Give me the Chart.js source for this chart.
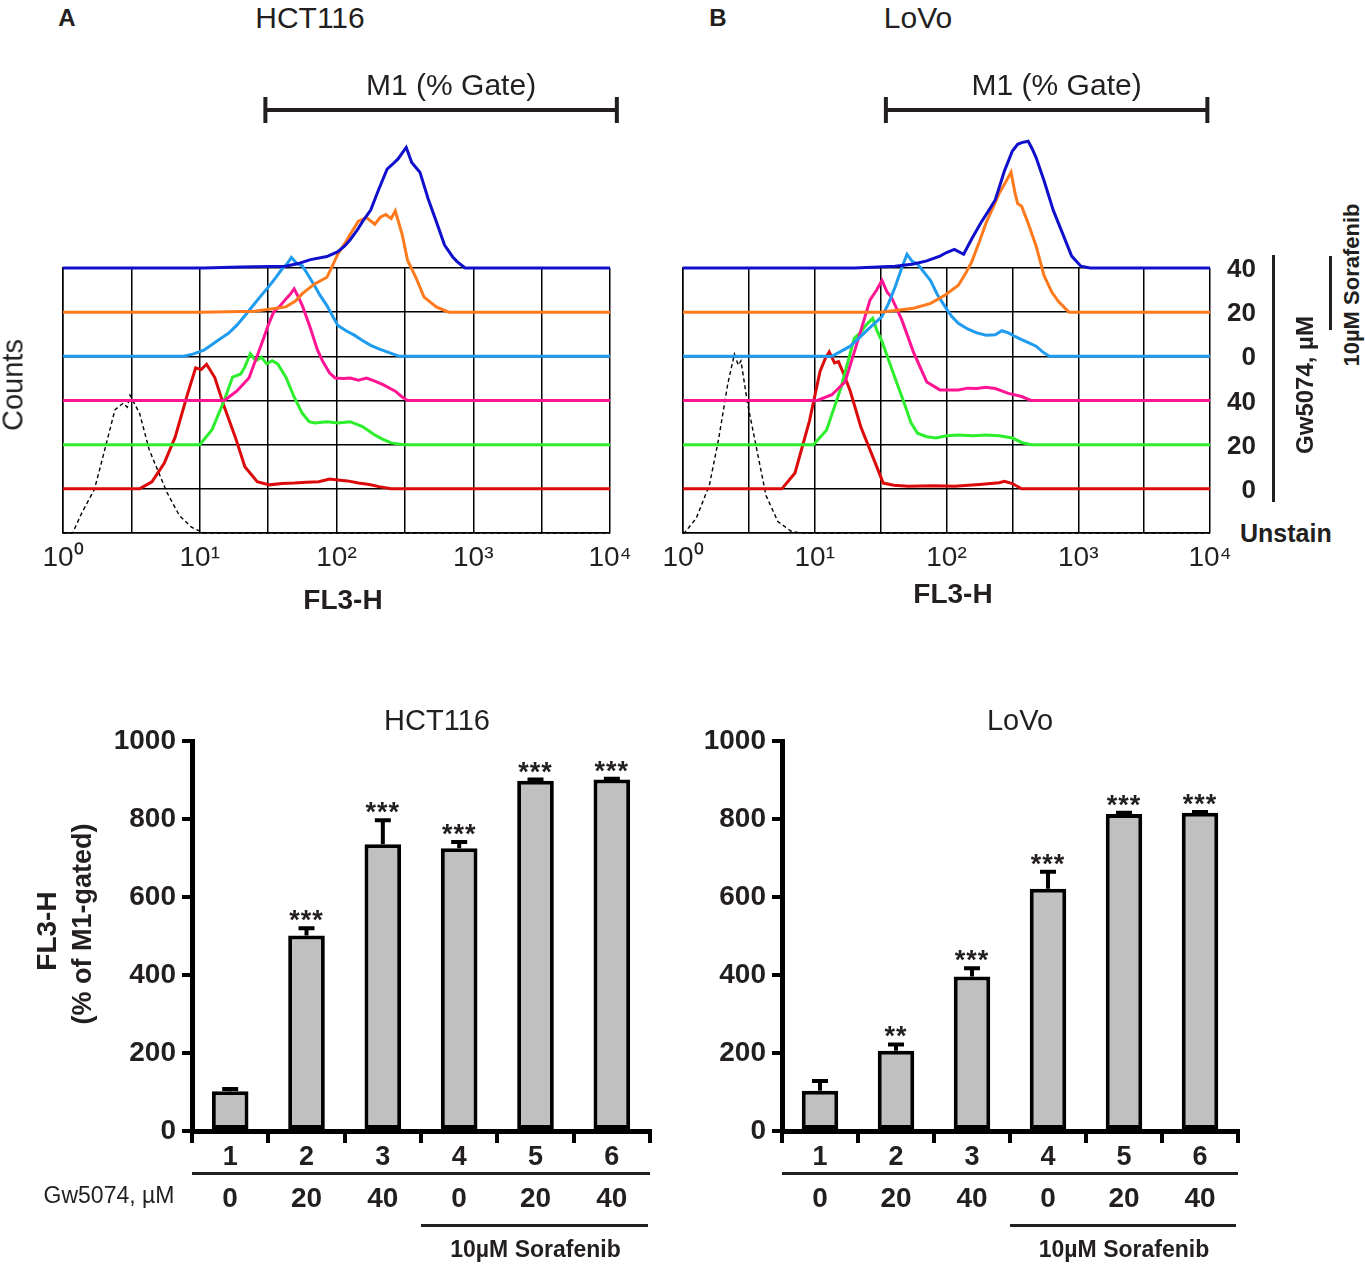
<!DOCTYPE html>
<html><head><meta charset="utf-8">
<script src="https://cdn.jsdelivr.net/npm/chart.js@4.4.1/dist/chart.umd.min.js"></script>
<style>
html,body{margin:0;padding:0;background:#fff;}
#fig{position:relative;width:1365px;height:1266px;overflow:hidden;font-family:"Liberation Sans",Arial,Helvetica,sans-serif;color:#231f20;}
canvas{position:absolute;}
.t{position:absolute;white-space:nowrap;line-height:1;}
.ln{position:absolute;background:#231f20;}
</style></head><body><div id="fig">
<canvas id="hA" width="640" height="540" style="left:0px;top:60px;width:640px;height:540px"></canvas>
<canvas id="hB" width="600" height="540" style="left:640px;top:60px;width:600px;height:540px"></canvas>
<canvas id="bA" width="670" height="566" style="left:0px;top:700px;width:670px;height:566px"></canvas>
<canvas id="bB" width="580" height="566" style="left:680px;top:700px;width:580px;height:566px"></canvas>
</div>
<script>
// ---------- DATA ----------
// Histogram curves: [log10(FL3-H), relative count in grid rows]
const hctBlue = [[0,0],[1.03,0],[1.30,0.02],[1.63,0.04],[1.72,0.10],[1.81,0.19],[1.93,0.26],[2.01,0.37],[2.06,0.50],[2.10,0.64],[2.15,0.85],[2.19,1.05],[2.25,1.31],[2.31,1.79],[2.37,2.24],[2.41,2.35],[2.45,2.47],[2.48,2.60],[2.51,2.73],[2.55,2.39],[2.61,2.17],[2.67,1.57],[2.73,1.05],[2.79,0.52],[2.85,0.25],[2.88,0.15],[2.94,0],[4,0]];
const hctOrange = [[0,0],[1.00,0],[1.40,0.02],[1.63,0.12],[1.70,0.25],[1.75,0.42],[1.84,0.64],[1.93,0.79],[1.97,1.05],[2.01,1.32],[2.06,1.55],[2.10,1.76],[2.16,2.06],[2.22,2.14],[2.28,1.99],[2.32,2.15],[2.36,2.21],[2.40,2.12],[2.43,2.29],[2.48,1.76],[2.52,1.17],[2.58,0.79],[2.64,0.34],[2.73,0.12],[2.82,0],[4,0]];
const hctLightBlue = [[0,0],[0.88,0],[0.95,0.05],[1.03,0.14],[1.09,0.27],[1.15,0.40],[1.21,0.52],[1.27,0.70],[1.33,0.92],[1.39,1.15],[1.45,1.38],[1.51,1.60],[1.56,1.80],[1.60,1.97],[1.64,2.10],[1.67,2.24],[1.71,2.10],[1.75,2.05],[1.80,1.80],[1.84,1.60],[1.88,1.38],[1.93,1.15],[1.97,0.92],[2.01,0.70],[2.07,0.58],[2.13,0.48],[2.19,0.36],[2.25,0.25],[2.31,0.17],[2.37,0.10],[2.46,0],[4,0]];
const hctPink = [[0,0],[1.18,0],[1.27,0.21],[1.36,0.51],[1.45,1.26],[1.50,1.70],[1.54,2.00],[1.59,2.15],[1.63,2.30],[1.66,2.40],[1.69,2.53],[1.72,2.35],[1.75,2.15],[1.81,1.63],[1.86,1.15],[1.90,0.88],[1.95,0.62],[1.99,0.51],[2.05,0.50],[2.10,0.51],[2.16,0.46],[2.22,0.51],[2.28,0.44],[2.34,0.36],[2.43,0.21],[2.48,0.08],[2.52,0],[4,0]];
const hctGreen = [[0,0],[1.00,0],[1.09,0.34],[1.18,1.01],[1.24,1.53],[1.30,1.60],[1.33,1.76],[1.37,2.06],[1.41,1.90],[1.45,1.98],[1.49,1.83],[1.53,1.90],[1.57,1.83],[1.63,1.53],[1.69,1.08],[1.75,0.71],[1.80,0.52],[1.84,0.49],[1.93,0.52],[2.01,0.49],[2.10,0.52],[2.19,0.41],[2.28,0.22],[2.34,0.12],[2.40,0.04],[2.49,0],[4,0]];
const hctRed = [[0,0],[0.56,0],[0.65,0.16],[0.74,0.58],[0.82,1.17],[0.91,2.14],[0.97,2.74],[1.01,2.70],[1.05,2.82],[1.11,2.52],[1.18,1.85],[1.26,1.17],[1.33,0.50],[1.42,0.16],[1.51,0.09],[1.60,0.12],[1.69,0.13],[1.78,0.15],[1.87,0.16],[1.95,0.22],[2.01,0.20],[2.08,0.18],[2.16,0.13],[2.24,0.10],[2.31,0.05],[2.40,0],[4,0]];
const hctUnstain = [[0,0],[0.07,0],[0.14,0.47],[0.23,0.99],[0.30,1.82],[0.38,2.79],[0.44,2.94],[0.47,2.85],[0.49,3.12],[0.56,2.71],[0.63,1.89],[0.71,1.29],[0.76,0.92],[0.85,0.40],[0.94,0.13],[1.03,0],[4,0]];

const lovoBlue = [[0,0],[1.30,0],[1.61,0.04],[1.75,0.09],[1.85,0.16],[1.95,0.27],[2.00,0.35],[2.06,0.42],[2.13,0.31],[2.19,0.65],[2.26,1.02],[2.32,1.30],[2.37,1.54],[2.44,2.20],[2.50,2.65],[2.54,2.80],[2.57,2.84],[2.62,2.87],[2.65,2.70],[2.68,2.50],[2.74,1.98],[2.81,1.31],[2.88,0.79],[2.95,0.27],[3.02,0.04],[3.09,0],[4,0]];
const lovoOrange = [[0,0],[1.50,0],[1.75,0.09],[1.88,0.20],[1.99,0.39],[2.09,0.61],[2.14,0.85],[2.19,1.13],[2.25,1.60],[2.30,2.02],[2.35,2.35],[2.40,2.69],[2.45,2.95],[2.49,3.17],[2.52,2.70],[2.54,2.46],[2.57,2.40],[2.61,2.09],[2.68,1.50],[2.74,0.83],[2.80,0.45],[2.85,0.24],[2.93,0],[4,0]];
const lovoLightBlue = [[0,0],[1.13,0],[1.27,0.23],[1.40,0.60],[1.51,0.90],[1.56,1.20],[1.61,1.57],[1.66,2.00],[1.70,2.31],[1.74,2.15],[1.78,2.09],[1.83,1.90],[1.88,1.71],[1.93,1.40],[1.99,1.12],[2.04,0.90],[2.09,0.75],[2.16,0.62],[2.23,0.53],[2.30,0.48],[2.37,0.49],[2.42,0.58],[2.47,0.53],[2.52,0.45],[2.57,0.38],[2.63,0.30],[2.68,0.23],[2.73,0.10],[2.78,0],[4,0]];
const lovoPink = [[0,0],[1.02,0],[1.13,0.13],[1.23,0.42],[1.33,1.39],[1.42,2.28],[1.47,2.50],[1.51,2.72],[1.55,2.45],[1.58,2.35],[1.66,1.83],[1.75,1.09],[1.85,0.42],[1.95,0.24],[2.09,0.24],[2.16,0.28],[2.23,0.27],[2.30,0.30],[2.37,0.27],[2.47,0.16],[2.57,0.09],[2.64,0],[4,0]];
const lovoGreen = [[0,0],[0.99,0],[1.09,0.33],[1.20,1.30],[1.30,2.41],[1.35,2.55],[1.39,2.71],[1.44,2.86],[1.47,2.60],[1.51,2.34],[1.59,1.67],[1.68,0.93],[1.73,0.50],[1.78,0.26],[1.85,0.18],[1.92,0.15],[2.00,0.20],[2.09,0.22],[2.20,0.20],[2.30,0.22],[2.40,0.20],[2.50,0.15],[2.57,0.05],[2.64,0],[4,0]];
const lovoRed = [[0,0],[0.75,0],[0.85,0.36],[0.96,1.54],[1.04,2.66],[1.08,2.95],[1.11,3.10],[1.15,2.85],[1.18,2.88],[1.22,2.60],[1.27,2.21],[1.35,1.40],[1.44,0.73],[1.52,0.13],[1.60,0.08],[1.71,0.06],[1.90,0.07],[2.06,0.06],[2.25,0.10],[2.40,0.14],[2.44,0.17],[2.50,0.12],[2.57,0],[4,0]];
const lovoUnstain = [[0,0],[0.01,0],[0.10,0.33],[0.20,1.08],[0.27,2.12],[0.34,3.38],[0.39,4.05],[0.42,3.80],[0.44,3.90],[0.49,2.93],[0.56,1.89],[0.63,0.85],[0.72,0.26],[0.82,0.04],[0.89,0],[4,0]];

// stacking row (baseline) of each histogram, top to bottom
const rowOffsets = [6,5,4,3,2,1,0];
const rowDose = ['40','20','0','40','20','0'];
const seriesColors = ['#1010cc','#ff7a1c','#1f9bf0','#ff1493','#2cee2c','#dc0a0a','#000000'];
// M1 gate range, log10(FL3-H)
const gateA = [1.48, 4.05];
const gateB = [1.54, 3.98];
const xTickExp = ['\u2070','\u00b9','\u00b2','\u00b3','\u2074'];

// Bar charts
const barCategories = ['1','2','3','4','5','6'];
const gwDose = ['0','20','40','0','20','40'];
const hctMeans = [102, 501, 735, 725, 898, 901];
const hctErr = [6, 19, 62, 16, 3, 2];
const hctStars = ['', '***', '***', '***', '***', '***'];
const lovoMeans = [103, 206, 396, 621, 813, 816];
const lovoErr = [25, 16, 21, 44, 3, 2];
const lovoStars = ['', '**', '***', '***', '***', '***'];

// ---------- HELPERS ----------
const INK = '#231f20';
Chart.defaults.font.family = '"Liberation Sans", Arial, Helvetica, sans-serif';
Chart.defaults.color = INK;
const fig = document.getElementById('fig');
function txt(s, x, y, o) {
  o = o || {};
  const d = document.createElement('div');
  d.className = 't';
  d.textContent = s;
  d.style.left = x + 'px';
  d.style.top = y + 'px';
  d.style.fontSize = (o.size || 28) + 'px';
  d.style.fontWeight = o.bold ? 'bold' : 'normal';
  if (o.ls) d.style.letterSpacing = o.ls + 'px';
  let tr = o.anchor === 'right' ? 'translate(-100%,-50%)' : o.anchor === 'left' ? 'translate(0,-50%)' : 'translate(-50%,-50%)';
  if (o.rot) tr += ' rotate(-90deg)';
  d.style.transform = tr;
  fig.appendChild(d);
  return d;
}
function line(x, y, w, h) {
  const d = document.createElement('div');
  d.className = 'ln';
  d.style.left = x + 'px'; d.style.top = y + 'px';
  d.style.width = w + 'px'; d.style.height = h + 'px';
  fig.appendChild(d);
}

const gatePlugin = {
  id: 'gate',
  afterDraw(chart, args, opts) {
    const ctx = chart.ctx, x = chart.scales.x;
    const x0 = x.getPixelForValue(opts.range[0]), x1 = x.getPixelForValue(opts.range[1]);
    const y = opts.y;
    ctx.save();
    ctx.strokeStyle = INK; ctx.lineWidth = 4; ctx.lineCap = 'butt';
    ctx.beginPath();
    ctx.moveTo(x0, y); ctx.lineTo(x1, y);
    ctx.moveTo(x0, y - 13); ctx.lineTo(x0, y + 13);
    ctx.moveTo(x1, y - 13); ctx.lineTo(x1, y + 13);
    ctx.stroke();
    ctx.restore();
  }
};

function histChart(id, curves, gate, padL, padR) {
  const datasets = curves.map((c, i) => ({
    data: c.map(p => ({x: p[0], y: rowOffsets[i] + p[1]})),
    borderColor: seriesColors[i],
    borderWidth: i === 6 ? 1.4 : 3,
    borderDash: i === 6 ? [4, 3] : [],
    pointRadius: 0,
    tension: 0,
    fill: false,
    clip: false
  }));
  return new Chart(document.getElementById(id), {
    type: 'line',
    data: {datasets},
    options: {
      responsive: false, animation: false, events: [],
      layout: {padding: {left: padL, right: padR, top: 208, bottom: 0}},
      plugins: {legend: {display: false}, tooltip: {enabled: false}, gate: {range: gate, y: 50}},
      scales: {
        x: {
          type: 'linear', min: 0, max: 4,
          afterFit(s) { s.height = 67; },
          ticks: {stepSize: 0.5, autoSkip: false, maxRotation: 0, padding: 8, font: {size: 28}, color: INK,
            callback: v => Number.isInteger(v) ? '10' + xTickExp[v] : ''},
          grid: {color: '#000', lineWidth: 1.5, drawTicks: false},
          border: {color: '#000', width: 1.5}
        },
        y: {
          type: 'linear', min: 0, max: 6,
          afterFit(s) { s.width = 0; },
          ticks: {display: false, stepSize: 1},
          grid: {color: '#000', lineWidth: 1.5, drawTicks: false},
          border: {color: '#000', width: 1.5}
        }
      }
    },
    plugins: [gatePlugin]
  });
}

const errPlugin = {
  id: 'errbars',
  afterDatasetsDraw(chart) {
    const ctx = chart.ctx, y = chart.scales.y;
    const ds = chart.data.datasets[0];
    const meta = chart.getDatasetMeta(0);
    ctx.save();
    ctx.strokeStyle = '#000'; ctx.lineWidth = 4;
    meta.data.forEach((bar, i) => {
      const e = ds.errors[i];
      if (!e) return;
      const yb = y.getPixelForValue(ds.data[i]);
      const yt = y.getPixelForValue(ds.data[i] + e);
      ctx.beginPath();
      ctx.moveTo(bar.x, yb); ctx.lineTo(bar.x, yt);
      ctx.moveTo(bar.x - 8, yt); ctx.lineTo(bar.x + 8, yt);
      ctx.stroke();
    });
    ctx.restore();
  }
};

function barChart(id, means, errs, yWidth, padR) {
  return new Chart(document.getElementById(id), {
    type: 'bar',
    data: {labels: barCategories, datasets: [{
      data: means, errors: errs,
      backgroundColor: '#c0c0c0', borderColor: '#000', borderWidth: 4, borderSkipped: false,
      barPercentage: 0.48, categoryPercentage: 1
    }]},
    options: {
      responsive: false, animation: false, events: [],
      layout: {padding: {left: 0, right: padR, top: 41, bottom: 0}},
      plugins: {legend: {display: false}, tooltip: {enabled: false}},
      scales: {
        x: {
          afterFit(s) { s.height = 135; },
          ticks: {font: {size: 27, weight: 'bold'}, padding: -2, color: INK, maxRotation: 0},
          grid: {display: true, drawOnChartArea: false, drawTicks: true, tickLength: 12, lineWidth: 4, color: '#000', offset: true},
          border: {color: '#000', width: 5}
        },
        y: {
          min: 0, max: 1000,
          afterFit(s) { s.width = yWidth; },
          ticks: {stepSize: 200, font: {size: 28, weight: 'bold'}, padding: 6, color: INK, callback: v => String(v)},
          grid: {drawOnChartArea: false, drawTicks: true, tickLength: 10, lineWidth: 4, color: '#000'},
          border: {color: '#000', width: 5}
        }
      }
    },
    plugins: [errPlugin]
  });
}

// ---------- HISTOGRAMS ----------
const hA = histChart('hA', [hctBlue, hctOrange, hctLightBlue, hctPink, hctGreen, hctRed, hctUnstain], gateA, 63, 30);
const hB = histChart('hB', [lovoBlue, lovoOrange, lovoLightBlue, lovoPink, lovoGreen, lovoRed, lovoUnstain], gateB, 43, 30);

txt('A', 67, 18, {size: 24, bold: true});
txt('B', 718, 18, {size: 24, bold: true});
txt('HCT116', 310, 18, {size: 30});
txt('LoVo', 918, 18, {size: 30});
[[hA, gateA, 0], [hB, gateB, 640]].forEach(([ch, g, left]) => {
  const x = ch.scales.x;
  const cx = left + (x.getPixelForValue(g[0]) + x.getPixelForValue(g[1])) / 2 + 10;
  txt('M1 (% Gate)', cx, 85, {size: 30});
});
txt('Counts', 13, 385, {size: 29, rot: true});
txt('FL3-H', 343, 600, {size: 28, bold: true});
txt('FL3-H', 953, 594, {size: 28, bold: true});

// right-side labels of panel B
(function () {
  const y = hB.scales.y;
  for (let i = 0; i < 6; i++) {
    txt(rowDose[i], 1256, 60 + y.getPixelForValue(rowOffsets[i]), {size: 26, bold: true, anchor: 'right'});
  }
  txt('Unstain', 1240, 60 + y.getPixelForValue(0), {size: 25, bold: true, anchor: 'left'});
  line(1272, 255, 3, 247);
  txt('Gw5074, \u00b5M', 1305, 385, {size: 24, bold: true, rot: true});
  line(1329, 256, 3, 74);
  txt('10\u00b5M Sorafenib', 1352, 285, {size: 22, bold: true, rot: true});
})();

// ---------- BAR CHARTS ----------
const bA = barChart('bA', hctMeans, hctErr, 192, 20);
const bB = barChart('bB', lovoMeans, lovoErr, 102, 22);

txt('HCT116', 437, 720, {size: 29});
txt('LoVo', 1020, 720, {size: 29});
txt('FL3-H', 47, 931, {size: 28, bold: true, rot: true});
txt('(% of M1-gated)', 82, 924, {size: 27, bold: true, rot: true});
txt('Gw5074, \u00b5M', 109, 1195, {size: 23});

[[bA, hctMeans, hctErr, hctStars, 0, 700], [bB, lovoMeans, lovoErr, lovoStars, 680, 700]].forEach(([ch, m, e, st, left, top]) => {
  const x = ch.scales.x, y = ch.scales.y;
  const step = x.getPixelForValue(1) - x.getPixelForValue(0);
  for (let i = 0; i < m.length; i++) {
    const cx = left + x.getPixelForValue(i);
    if (st[i]) txt(st[i], cx, top + y.getPixelForValue(m[i] + e[i]) - 8, {size: 27, bold: true, ls: 1});
    txt(gwDose[i], cx, 1198, {size: 28, bold: true});
  }
  const axL = left + x.left, axR = left + x.right;
  line(axL, 1172, axR - axL, 3);
  const sL = left + x.getPixelForValue(3) - step / 2;
  line(sL, 1224, axR - sL - 2, 3);
  txt('10\u00b5M Sorafenib', (sL + axR) / 2, 1249, {size: 23, bold: true});
});
</script>
</body></html>
